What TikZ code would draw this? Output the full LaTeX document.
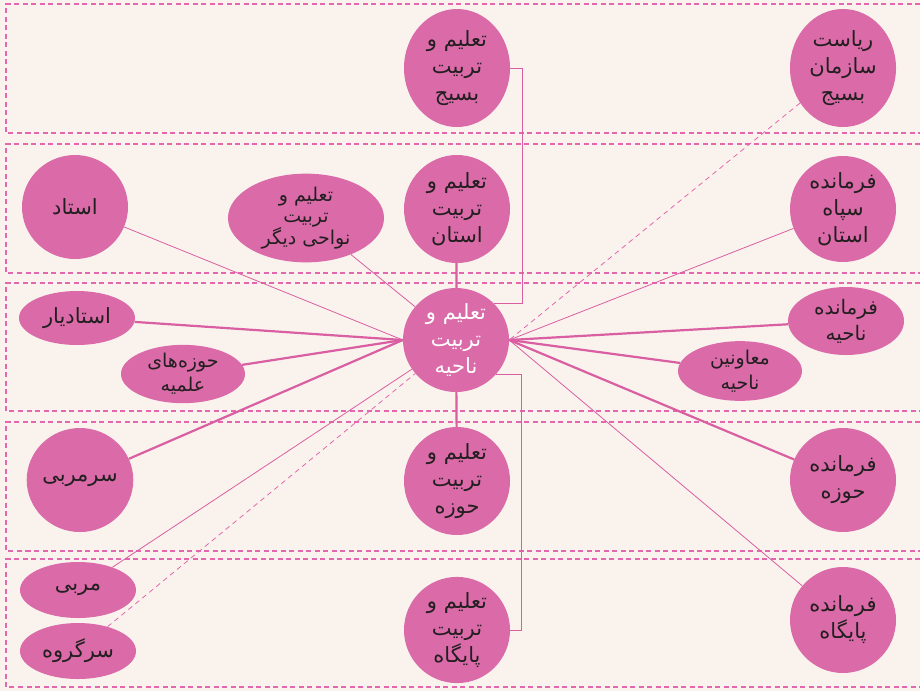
\documentclass[tikz,border=0pt]{standalone}
\usepackage{fontspec}
\usetikzlibrary{shapes.geometric}
\newfontfamily\arabicfont[Script=Arabic]{DejaVu Sans}
\TeXXeTstate=1
\newcommand{\farsi}[1]{\beginR #1\endR}
\definecolor{bgc}{HTML}{FAF3ED}
\definecolor{pk}{HTML}{DA6AA8}
\definecolor{lnc}{HTML}{D95EA2}
\definecolor{dsh}{HTML}{E366AE}
\definecolor{txt}{HTML}{231F20}
\pgfdeclarelayer{bgl}
\pgfdeclarelayer{edges}
\pgfsetlayers{bgl,edges,main}
\tikzset{
  bub/.style={ellipse, fill=pk, draw=none, inner sep=0pt, align=center, text=txt,
    font=\arabicfont\fontsize{21}{27}\selectfont},
  thinln/.style={draw=lnc, line width=0.8pt},
  thickln/.style={draw=lnc, line width=2.2pt},
  dln/.style={draw=dsh, line width=0.8pt, dash pattern=on 5pt off 4pt},
  band/.style={draw=dsh, line width=1.1pt, dash pattern=on 5pt off 3.5pt}
}
\begin{document}
\begin{tikzpicture}[x=1pt,y=-1pt]
\begin{pgfonlayer}{bgl}
\fill[bgc] (0,0) rectangle (920,691);
\useasboundingbox (0,0) rectangle (920,691);
\foreach \t/\b in {4/133,144/273,283/411,422/551,559/687}{
  \draw[band] (920,\t) -- (6,\t) -- (6,\b) -- (920,\b);
}
\end{pgfonlayer}

\node[bub, minimum width=106pt, minimum height=118pt] (basij) at (457,68) {\farsi{تعلیم و}\\\farsi{تربیت}\\\farsi{بسیج}};
\node[bub, minimum width=106pt, minimum height=118pt] (riasat) at (843,68) {\farsi{ریاست}\\\farsi{سازمان}\\\farsi{بسیج}};
\node[bub, minimum width=106pt, minimum height=104pt] (ostad) at (75,207) {\farsi{استاد}};
\node[bub, minimum width=156pt, minimum height=80pt, font=\arabicfont\fontsize{19}{21}\selectfont] (navahi) at (306,218) {\farsi{تعلیم و}\\\farsi{تربیت}\\\farsi{نواحی دیگر}};
\node[bub, minimum width=106pt, minimum height=108pt] (ostan) at (457,209) {\farsi{تعلیم و}\\\farsi{تربیت}\\\farsi{استان}};
\node[bub, minimum width=106pt, minimum height=106pt] (sepah) at (843,209) {\farsi{فرمانده}\\\farsi{سپاه}\\\farsi{استان}};
\node[bub, minimum width=116pt, minimum height=54pt] (ostadyar) at (77,318) {\farsi{استادیار}};
\node[bub, minimum width=124pt, minimum height=56pt, font=\arabicfont\fontsize{19}{24}\selectfont] (howzeha) at (183,374) {\farsi{حوزه‌های}\\\farsi{علمیه}};
\node[bub, minimum width=106pt, minimum height=104pt, text=white] (hub) at (456,340) {\farsi{تعلیم و}\\\farsi{تربیت}\\\farsi{ناحیه}};
\node[bub, minimum width=116pt, minimum height=68pt, font=\arabicfont\fontsize{20}{26}\selectfont] (fnahieh) at (846,321) {\farsi{فرمانده}\\\farsi{ناحیه}};
\node[bub, minimum width=124pt, minimum height=58pt, font=\arabicfont\fontsize{19}{25}\selectfont] (moavenin) at (740,371) {\farsi{معاونین}\\\farsi{ناحیه}};
\node[bub, minimum width=106pt, minimum height=104pt] (sarmorabbi) at (80,480) {\farsi{سرمربی}};
\node[bub, minimum width=106pt, minimum height=108pt] (howzeh) at (457,481) {\farsi{تعلیم و}\\\farsi{تربیت}\\\farsi{حوزه}};
\node[bub, minimum width=106pt, minimum height=104pt] (fhowzeh) at (843,480) {\farsi{فرمانده}\\\farsi{حوزه}};
\node[bub, minimum width=116pt, minimum height=56pt] (morabbi) at (78,590) {\farsi{مربی}};
\node[bub, minimum width=116pt, minimum height=56pt] (sargoroh) at (78,651) {\farsi{سرگروه}};
\node[bub, minimum width=106pt, minimum height=106pt] (paygah) at (457,630) {\farsi{تعلیم و}\\\farsi{تربیت}\\\farsi{پایگاه}};
\node[bub, minimum width=106pt, minimum height=106pt] (fpaygah) at (843,620) {\farsi{فرمانده}\\\farsi{پایگاه}};

\begin{pgfonlayer}{edges}
\draw[thinln] (ostad) -- (hub.west);
\draw[thinln] (navahi) -- (hub);
\draw[thickln] (ostadyar) -- (hub.west);
\draw[thickln] (howzeha) -- (hub.west);
\draw[thickln] (sarmorabbi) -- (hub.west);
\draw[thinln] (morabbi) -- (hub);
\draw[dln] (sargoroh) -- (hub);
\draw[thickln] (ostan) -- (hub);
\draw[thickln] (howzeh) -- (hub);
\draw[thinln] (hub.44) -- ++(28,0) |- (basij.east);
\draw[thinln] (hub.-41) -- ++(26,0) |- (paygah.east);
\draw[dln] (riasat) -- (hub.east);
\draw[thinln] (sepah) -- (hub.east);
\draw[thickln] (fnahieh) -- (hub.east);
\draw[thickln] (moavenin) -- (hub.east);
\draw[thickln] (fhowzeh) -- (hub.east);
\draw[thinln] (fpaygah) -- (hub.east);
\end{pgfonlayer}
\end{tikzpicture}
\end{document}
